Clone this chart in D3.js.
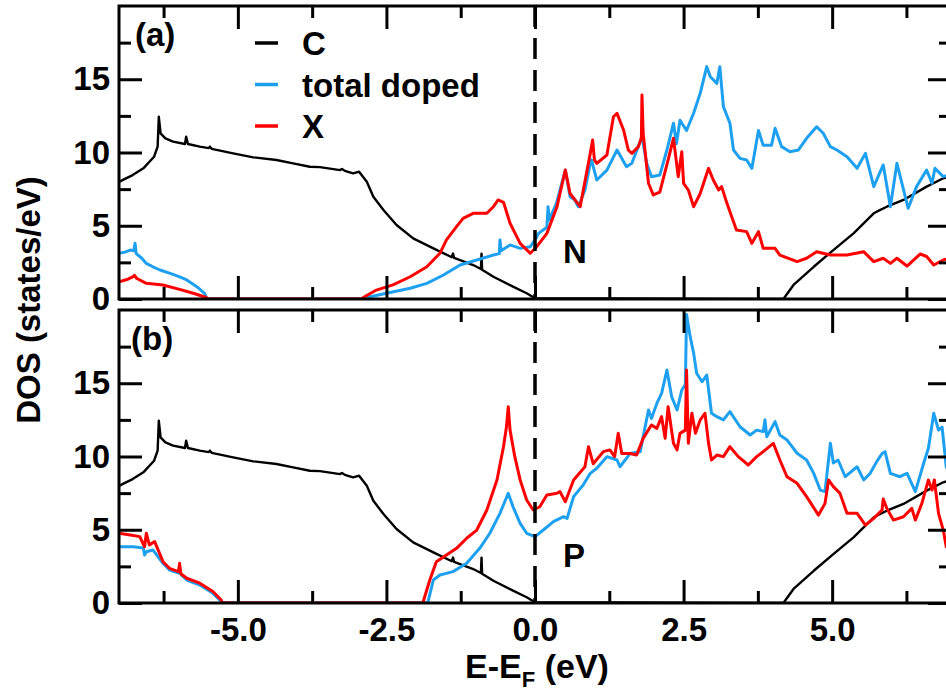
<!DOCTYPE html>
<html>
<head>
<meta charset="utf-8">
<script src="https://cdn.jsdelivr.net/npm/d3@7"></script>
<style>
  body { margin: 0; background: #fff; }
  text { font-family: "Liberation Sans", Arial, Helvetica, sans-serif; font-weight: bold; }
</style>
</head>
<body>
<div id="chart"></div>
<script>
// DOS data, [E-EF (eV), DOS (states/eV)]
// pristine carbon, same in both panels
var cDOS = [[-7.0, 8.0], [-6.9, 8.2], [-6.77, 8.46], [-6.59, 8.92], [-6.41, 9.71], [-6.35, 10.4], [-6.33, 12.44],
    [-6.30, 11.3], [-6.22, 10.97], [-6.09, 10.74], [-5.89, 10.58], [-5.87, 11.08], [-5.84, 10.58], [-5.64, 10.4],
    [-5.49, 10.3], [-5.47, 10.4], [-5.44, 10.25], [-5.08, 9.94], [-4.74, 9.67], [-4.35, 9.49], [-4.07, 9.26],
    [-3.79, 9.03], [-3.62, 9.0], [-3.28, 8.8], [-3.25, 8.88], [-3.2, 8.75], [-3.06, 8.58], [-2.96, 8.69],
    [-2.83, 8.0], [-2.72, 6.98], [-2.55, 6.07], [-2.33, 5.05], [-2.05, 4.14], [-1.71, 3.46], [-1.40, 2.85],
    [-1.38, 3.1], [-1.36, 2.8], [-1.04, 2.32], [-0.91, 2.05], [-0.90, 3.1], [-0.89, 2.0], [-0.70, 1.52],
    [-0.37, 0.84], [-0.14, 0.39], [0, 0.05], [4.18, 0], [4.35, 0.96], [4.69, 2.2], [5.02, 3.34], [5.36, 4.48],
    [5.70, 5.85], [5.75, 5.96], [5.92, 6.3], [6.2, 6.76], [6.59, 7.67], [6.87, 8.24], [7.0, 8.4]];

// panel (a), N doped
var aTotal = [[-7.0, 3.12], [-6.9, 3.2], [-6.81, 3.34], [-6.75, 3.3], [-6.73, 3.8], [-6.71, 3.1], [-6.62, 2.8],
    [-6.54, 2.43], [-6.43, 2.2], [-6.31, 1.98], [-6.14, 1.75], [-6.0, 1.55], [-5.86, 1.30], [-5.69, 0.84],
    [-5.56, 0.39], [-5.52, 0], [-2.85, 0], [-2.83, 0.1], [-2.5, 0.39], [-2.1, 0.73], [-1.82, 1.07], [-1.54, 1.64],
    [-1.26, 2.32], [-0.98, 2.66], [-0.70, 3.0], [-0.60, 3.1], [-0.59, 4.03], [-0.57, 3.3], [-0.42, 3.69],
    [-0.25, 3.46], [-0.08, 3.57], [0, 4.03], [0.06, 4.48], [0.2, 4.9], [0.22, 6.3], [0.24, 5.4], [0.36, 6.53],
    [0.51, 8.8], [0.59, 6.98], [0.67, 6.76], [0.73, 6.3], [0.84, 7.44], [0.93, 9.26], [0.95, 9.5], [1.04, 8.12],
    [1.21, 8.8], [1.38, 10.17], [1.54, 9.03], [1.63, 9.26], [1.80, 11.08], [1.88, 9.26], [1.96, 8.35],
    [2.10, 8.46], [2.22, 10.17], [2.33, 12.0], [2.38, 10.6], [2.44, 12.2], [2.55, 11.5], [2.67, 12.7],
    [2.78, 14.04], [2.89, 15.86], [2.95, 15.17], [3.06, 14.72], [3.11, 15.86], [3.17, 13.13], [3.28, 12.0],
    [3.34, 10.17], [3.45, 9.6], [3.56, 9.49], [3.65, 8.92], [3.76, 11.5], [3.84, 10.5], [3.98, 10.5],
    [4.04, 11.65], [4.15, 10.4], [4.29, 10.05], [4.43, 10.17], [4.57, 10.97], [4.74, 11.76], [4.85, 11.31],
    [4.97, 10.4], [5.08, 10.17], [5.25, 9.71], [5.42, 8.92], [5.56, 9.94], [5.70, 7.67], [5.86, 9.15],
    [5.98, 6.3], [6.09, 9.26], [6.28, 6.19], [6.42, 7.67], [6.59, 8.8], [6.68, 7.9], [6.73, 8.92], [6.87, 8.35],
    [7.0, 8.5]];

var aX = [[-7.0, 1.18], [-6.85, 1.35], [-6.76, 1.52], [-6.74, 1.62], [-6.70, 1.4], [-6.54, 1.07], [-6.26, 0.96],
    [-5.98, 0.66], [-5.75, 0.39], [-5.53, 0.1], [-5.5, 0], [-2.92, 0], [-2.89, 0.1], [-2.67, 0.61], [-2.39, 0.96],
    [-2.1, 1.52], [-1.82, 2.2], [-1.6, 3.12], [-1.49, 4.03], [-1.32, 4.94], [-1.21, 5.5], [-1.04, 5.85],
    [-0.81, 5.85], [-0.70, 6.3], [-0.62, 6.76], [-0.53, 6.6], [-0.42, 5.17], [-0.25, 3.8], [-0.08, 3.12],
    [0.03, 3.57], [0.2, 4.48], [0.37, 6.3], [0.51, 8.8], [0.59, 7.2], [0.76, 6.3], [0.93, 9.94], [0.97, 10.85],
    [1.0, 9.5], [1.04, 9.26], [1.21, 9.83], [1.32, 12.44], [1.38, 12.67], [1.49, 11.54], [1.57, 10.17],
    [1.63, 9.94], [1.74, 10.4], [1.79, 11.0], [1.80, 13.93], [1.82, 11.3], [1.91, 7.9], [1.99, 7.1], [2.10, 7.3],
    [2.24, 9.49], [2.33, 10.97], [2.41, 8.35], [2.47, 10.05], [2.50, 7.9], [2.58, 7.44], [2.67, 6.3], [2.78, 7.2],
    [2.92, 8.92], [3.0, 8.12], [3.09, 7.44], [3.14, 7.67], [3.23, 6.53], [3.31, 5.62], [3.39, 4.71], [3.56, 4.6],
    [3.65, 3.8], [3.76, 4.6], [3.84, 3.46], [4.04, 3.46], [4.12, 3.0], [4.41, 2.55], [4.57, 2.78], [4.74, 3.23],
    [4.97, 3.0], [5.25, 3.0], [5.53, 3.23], [5.70, 2.55], [5.86, 2.78], [5.98, 2.43], [6.09, 2.78], [6.26, 2.25],
    [6.48, 3.07], [6.59, 2.9], [6.71, 2.32], [6.87, 2.66], [7.0, 2.8]];

// panel (b), P doped
var bTotal = [[-7.0, 3.84], [-6.76, 3.84], [-6.59, 3.75], [-6.57, 3.28], [-6.54, 3.5], [-6.43, 3.62], [-6.26, 2.71],
    [-6.15, 2.25], [-5.98, 2.03], [-5.86, 1.57], [-5.64, 1.23], [-5.42, 0.66], [-5.28, 0.1], [-5.26, 0],
    [-1.82, 0], [-1.80, 0.1], [-1.71, 1.57], [-1.60, 1.91], [-1.38, 2.14], [-1.15, 2.71], [-0.93, 3.73],
    [-0.76, 4.76], [-0.59, 6.12], [-0.45, 7.49], [-0.37, 6.57], [-0.25, 5.44], [-0.14, 4.76], [0, 4.53],
    [0.14, 4.98], [0.31, 5.55], [0.48, 5.89], [0.54, 5.78], [0.65, 7.26], [0.81, 8.05], [0.93, 8.85], [1.04, 9.2],
    [1.21, 9.99], [1.38, 9.76], [1.43, 9.3], [1.60, 10.2], [1.77, 10.33], [1.91, 13.17], [1.96, 12.6],
    [2.05, 13.62], [2.13, 14.31], [2.22, 15.9], [2.30, 14.08], [2.39, 13.17], [2.47, 14.54], [2.53, 14.9],
    [2.55, 19.7], [2.61, 18.2], [2.67, 17.04], [2.72, 15.68], [2.81, 15.1], [2.89, 15.56], [2.97, 12.95],
    [3.06, 12.72], [3.17, 12.5], [3.28, 13.06], [3.45, 12.03], [3.62, 11.47], [3.73, 11.8], [3.84, 11.7],
    [3.87, 12.5], [3.90, 11.35], [4.04, 12.38], [4.12, 11.47], [4.24, 11.13], [4.41, 10.22], [4.57, 9.76],
    [4.69, 8.85], [4.80, 7.71], [4.88, 7.6], [4.97, 10.9], [5.02, 9.56], [5.10, 9.76], [5.22, 8.62], [5.42, 9.3],
    [5.53, 8.4], [5.64, 8.85], [5.75, 9.65], [5.84, 10.2], [5.89, 10.33], [5.98, 8.85], [6.14, 8.62],
    [6.26, 8.85], [6.40, 7.6], [6.54, 9.54], [6.62, 10.56], [6.71, 12.95], [6.79, 11.8], [6.85, 12.0],
    [6.92, 9.3], [7.0, 8.6]];

var bX = [[-7.0, 4.76], [-6.81, 4.64], [-6.65, 4.53], [-6.57, 3.84], [-6.54, 4.76], [-6.49, 3.96], [-6.40, 4.19],
    [-6.26, 2.82], [-6.15, 2.37], [-6.0, 2.14], [-5.98, 2.71], [-5.96, 2.0], [-5.86, 1.69], [-5.64, 1.35],
    [-5.42, 0.78], [-5.28, 0.2], [-5.26, 0], [-1.90, 0], [-1.88, 0.1], [-1.77, 1.57], [-1.66, 2.82], [-1.49, 3.28],
    [-1.32, 3.73], [-1.15, 4.42], [-0.98, 4.98], [-0.81, 6.35], [-0.64, 8.4], [-0.53, 10.67], [-0.48, 12.03],
    [-0.45, 13.4], [-0.42, 11.8], [-0.34, 9.99], [-0.25, 8.4], [-0.14, 7.03], [-0.03, 6.35], [0.08, 6.57],
    [0.2, 7.37], [0.37, 7.49], [0.42, 7.6], [0.51, 6.91], [0.65, 8.4], [0.84, 9.3], [0.90, 10.67], [0.98, 9.5],
    [1.15, 10.33], [1.26, 10.45], [1.34, 9.99], [1.40, 11.58], [1.46, 10.2], [1.60, 10.2], [1.71, 10.1],
    [1.82, 11.24], [1.96, 12.15], [2.05, 11.92], [2.13, 12.72], [2.19, 11.24], [2.24, 13.4], [2.33, 10.9],
    [2.39, 10.45], [2.44, 11.58], [2.53, 11.8], [2.55, 15.9], [2.58, 10.9], [2.64, 12.95], [2.70, 11.58],
    [2.78, 12.5], [2.86, 12.95], [2.92, 10.9], [2.97, 9.76], [3.06, 10.1], [3.17, 9.99], [3.28, 10.67],
    [3.42, 9.99], [3.59, 9.42], [3.73, 9.99], [3.84, 10.33], [4.01, 10.9], [4.12, 9.76], [4.24, 8.62],
    [4.41, 8.17], [4.57, 7.26], [4.77, 6.0], [4.88, 6.8], [4.94, 8.4], [5.02, 7.94], [5.13, 7.5], [5.25, 6.12],
    [5.42, 6.12], [5.56, 5.32], [5.70, 5.78], [5.84, 6.35], [5.86, 7.1], [5.92, 6.46], [6.03, 5.66],
    [6.20, 5.89], [6.34, 6.46], [6.40, 5.66], [6.51, 6.8], [6.62, 8.4], [6.68, 7.71], [6.72, 8.4], [6.79, 6.12],
    [6.87, 4.98], [6.92, 3.84], [7.0, 3.6]];

// ticks and labels
var xMajor = [-5, -2.5, 0, 2.5, 5];
var xMinor = [-6.25, -3.75, -1.25, 1.25, 3.75, 6.25];
var yMajor = [0, 5, 10, 15];
var yMinor = [2.5, 7.5, 12.5, 17.5];
var seriesNames = ["C", "total doped", "X"];
var seriesColors = ["#000000", "#1ea0f0", "#ff0000"];
var panelLabels = ["(a)", "(b)"];
var dopantLabels = ["N", "P"];

//svg dimensions
var svgWidth = 946;
var svgHeight = 695;

var panelTops = [6, 310];
var panelHeight = 293;
var fontSize = 33;

var svg = d3.select("#chart").append("svg")
    .attr("width", svgWidth)
    .attr("height", svgHeight)
    .style("background", "#fff");

var xScale = d3.scaleLinear().domain([-7, 7]).range([119, 951]);

var panelData = [[cDOS, aTotal, aX], [cDOS, bTotal, bX]];

//style an axis group: no domain line, thick ticks, big bold labels
function styleAxis(g) {
    g.select(".domain").remove();
    g.selectAll(".tick line").attr("stroke", "#000").attr("stroke-width", 3);
    g.selectAll("text")
        .attr("fill", "#000")
        .attr("font-size", fontSize)
        .attr("font-family", "'Liberation Sans', Arial, sans-serif")
        .attr("font-weight", "bold");
}

panelTops.forEach(function (top, i) {
    var bottom = top + panelHeight;
    var yScale = d3.scaleLinear().domain([0, 20]).range([bottom, top]);
    var isLast = i === panelTops.length - 1;

    var panel = svg.append("g");

    svg.append("clipPath")
        .attr("id", "clip" + i)
        .append("rect")
        .attr("x", xScale(-7))
        .attr("y", top)
        .attr("width", xScale(7) - xScale(-7))
        .attr("height", panelHeight);

    //dos curves
    var line = d3.line()
        .x(d => xScale(d[0]))
        .y(d => yScale(d[1]));

    var curves = panel.append("g").attr("clip-path", `url(#clip${i})`);

    curves.selectAll("path")
        .data(panelData[i])
        .enter()
        .append("path")
        .attr("d", line)
        .attr("fill", "none")
        .attr("stroke", (d, j) => seriesColors[j])
        .attr("stroke-width", (d, j) => j === 0 ? 2.4 : 3)
        .attr("stroke-linejoin", "round");

    //fermi level
    panel.append("line")
        .attr("x1", xScale(0))
        .attr("x2", xScale(0))
        .attr("y1", top)
        .attr("y2", bottom)
        .attr("stroke", "#000")
        .attr("stroke-width", 3.5)
        .attr("stroke-dasharray", "21,11");

    //ticks on all four sides, pointing in
    var bottomMajor = d3.axisBottom(xScale).tickValues(xMajor).tickSize(-23).tickSizeOuter(0)
        .tickPadding(15)
        .tickFormat(isLast ? d => d.toFixed(1) : "");
    panel.append("g").attr("transform", `translate(0, ${bottom})`).call(bottomMajor).call(styleAxis);
    panel.append("g").attr("transform", `translate(0, ${bottom})`)
        .call(d3.axisBottom(xScale).tickValues(xMinor).tickSize(-12).tickSizeOuter(0).tickFormat(""))
        .call(styleAxis);
    panel.append("g").attr("transform", `translate(0, ${top})`)
        .call(d3.axisTop(xScale).tickValues(xMajor).tickSize(-23).tickSizeOuter(0).tickFormat(""))
        .call(styleAxis);
    panel.append("g").attr("transform", `translate(0, ${top})`)
        .call(d3.axisTop(xScale).tickValues(xMinor).tickSize(-12).tickSizeOuter(0).tickFormat(""))
        .call(styleAxis);

    panel.append("g").attr("transform", `translate(${xScale(-7)}, 0)`)
        .call(d3.axisLeft(yScale).tickValues(yMajor).tickSize(-23).tickSizeOuter(0).tickPadding(9)
            .tickFormat(d => d))
        .call(styleAxis);
    panel.append("g").attr("transform", `translate(${xScale(-7)}, 0)`)
        .call(d3.axisLeft(yScale).tickValues(yMinor).tickSize(-12).tickSizeOuter(0).tickFormat(""))
        .call(styleAxis);
    panel.append("g").attr("transform", `translate(${xScale(7)}, 0)`)
        .call(d3.axisRight(yScale).tickValues(yMajor).tickSize(-23).tickSizeOuter(0).tickFormat(""))
        .call(styleAxis);
    panel.append("g").attr("transform", `translate(${xScale(7)}, 0)`)
        .call(d3.axisRight(yScale).tickValues(yMinor).tickSize(-12).tickSizeOuter(0).tickFormat(""))
        .call(styleAxis);

    //frame
    panel.append("rect")
        .attr("x", xScale(-7))
        .attr("y", top)
        .attr("width", xScale(7) - xScale(-7))
        .attr("height", panelHeight)
        .attr("fill", "none")
        .attr("stroke", "#000")
        .attr("stroke-width", 3);

    //panel letter and dopant
    panel.append("text")
        .attr("x", i === 0 ? 135 : 131)
        .attr("y", top + 40)
        .attr("font-size", fontSize)
        .text(panelLabels[i]);

    panel.append("text")
        .attr("x", 563)
        .attr("y", top + 257)
        .attr("font-size", fontSize)
        .text(dopantLabels[i]);
});

//legend in panel (a)
var legend = svg.append("g");
seriesNames.forEach(function (name, j) {
    var ly = 43 + j * 41.5;
    legend.append("line")
        .attr("x1", 255)
        .attr("x2", 278)
        .attr("y1", ly)
        .attr("y2", ly)
        .attr("stroke", seriesColors[j])
        .attr("stroke-width", 3.5);
    legend.append("text")
        .attr("x", 302)
        .attr("y", ly + 12)
        .attr("font-size", fontSize)
        .text(name);
});

//axis titles
svg.append("text")
    .attr("transform", "translate(40, 300) rotate(-90)")
    .attr("text-anchor", "middle")
    .attr("font-size", fontSize)
    .text("DOS (states/eV)");

var xTitle = svg.append("text")
    .attr("x", 537)
    .attr("y", 678)
    .attr("text-anchor", "middle")
    .attr("font-size", 34);
xTitle.append("tspan").text("E-E");
xTitle.append("tspan").attr("font-size", 22).attr("dy", 9).text("F");
xTitle.append("tspan").attr("dy", -9).text(" (eV)");
</script>
</body>
</html>
